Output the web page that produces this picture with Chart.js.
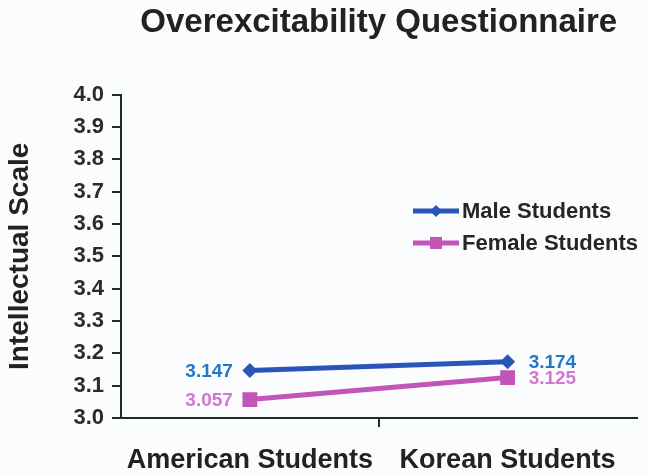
<!DOCTYPE html>
<html>
<head>
<meta charset="utf-8">
<script src="https://cdn.jsdelivr.net/npm/chart.js@4/dist/chart.umd.min.js"></script>
<style>
  html, body { margin: 0; padding: 0; background: #fbfcfe; }
  #wrap { width: 647px; height: 475px; }
</style>
</head>
<body>
<div id="wrap"><canvas id="c" width="647" height="475"></canvas></div>
<script>
const titleText = 'Overexcitability Questionnaire';
const yAxisTitle = 'Intellectual Scale';
const categories = ['American Students', 'Korean Students'];
const seriesNames = ['Male Students', 'Female Students'];
const maleValues = [3.147, 3.174];
const femaleValues = [3.057, 3.125];
const yMin = 3.0, yMax = 4.0, yStep = 0.1;

const FONT = '"Liberation Sans", Arial, sans-serif';
const lineColors = ['#2a55b8', '#c255b9'];
const labelColors = ['#1f78c8', '#d276d2'];

const valueLabels = {
  id: 'valueLabels',
  afterDatasetsDraw(chart) {
    const ctx = chart.ctx;
    ctx.save();
    ctx.font = 'bold 19px ' + FONT;
    ctx.textBaseline = 'middle';
    chart.data.datasets.forEach((ds, i) => {
      const meta = chart.getDatasetMeta(i);
      const pts = meta.data;
      ctx.fillStyle = labelColors[i];
      ctx.textAlign = 'right';
      ctx.fillText(ds.data[0].toFixed(3), pts[0].x - 17, pts[0].y + 1);
      ctx.textAlign = 'left';
      const last = pts.length - 1;
      ctx.fillText(ds.data[last].toFixed(3), pts[last].x + 21, pts[last].y + 1);
    });
    ctx.restore();
  }
};

const customLegend = {
  id: 'customLegend',
  afterDraw(chart) {
    const ctx = chart.ctx;
    const x0 = 413, x1 = 459;
    const ys = [211, 243];
    ctx.save();
    chart.data.datasets.forEach((ds, i) => {
      const y = ys[i];
      const cx = (x0 + x1) / 2;
      ctx.strokeStyle = ds.borderColor;
      ctx.lineWidth = 5;
      ctx.beginPath();
      ctx.moveTo(x0, y);
      ctx.lineTo(x1, y);
      ctx.stroke();
      ctx.fillStyle = ds.borderColor;
      ctx.beginPath();
      if (ds.pointStyle === 'rectRot') {
        const r = 6;
        ctx.moveTo(cx - r, y);
        ctx.lineTo(cx, y - r);
        ctx.lineTo(cx + r, y);
        ctx.lineTo(cx, y + r);
        ctx.closePath();
      } else {
        ctx.rect(cx - 6, y - 6, 12, 12);
      }
      ctx.fill();
      ctx.fillStyle = '#262626';
      ctx.font = 'bold 22px ' + FONT;
      ctx.textAlign = 'left';
      ctx.textBaseline = 'middle';
      ctx.fillText(ds.label, x1 + 3, y + 1);
    });
    ctx.restore();
  }
};

new Chart(document.getElementById('c'), {
  type: 'line',
  data: {
    labels: categories,
    datasets: [
      {
        label: seriesNames[0],
        data: maleValues,
        borderColor: lineColors[0],
        backgroundColor: lineColors[0],
        borderWidth: 5,
        pointStyle: 'rectRot',
        pointRadius: 7.5,
        pointBorderWidth: 0,
        tension: 0
      },
      {
        label: seriesNames[1],
        data: femaleValues,
        borderColor: lineColors[1],
        backgroundColor: lineColors[1],
        borderWidth: 5,
        pointStyle: 'rect',
        pointRadius: 10.5,
        pointBorderWidth: 0,
        tension: 0
      }
    ]
  },
  options: {
    responsive: false,
    animation: false,
    devicePixelRatio: 1,
    layout: { padding: { left: 0, right: 9, top: 0, bottom: 0 } },
    plugins: {
      legend: { display: false },
      tooltip: { enabled: false },
      title: {
        display: true,
        fullSize: false,
        text: titleText,
        color: '#222',
        font: { family: FONT, size: 33, weight: 'bold' },
        padding: { top: 3, bottom: 52 }
      }
    },
    scales: {
      x: {
        offset: true,
        afterFit(scale) { scale.height = 57; },
        grid: {
          display: true,
          drawOnChartArea: false,
          drawTicks: true,
          tickLength: 9,
          offset: true,
          lineWidth: 2,
          color: (c) => (c.index === 1 ? '#1d2b2b' : 'rgba(0,0,0,0)')
        },
        border: { display: true, color: '#1d2b2b', width: 2 },
        ticks: {
          color: '#222',
          font: { family: FONT, size: 27, weight: 'bold' },
          padding: 17,
          maxRotation: 0,
          autoSkip: false
        }
      },
      y: {
        min: yMin,
        max: yMax,
        afterFit(scale) { scale.width = 121; },
        grid: {
          display: true,
          drawOnChartArea: false,
          drawTicks: true,
          tickLength: 9,
          lineWidth: 2,
          color: '#1d2b2b'
        },
        border: { display: true, color: '#1d2b2b', width: 2 },
        ticks: {
          stepSize: yStep,
          color: '#2b2b2b',
          font: { family: FONT, size: 22, weight: 'bold' },
          padding: 8,
          callback: (v) => Number(v).toFixed(1)
        },
        title: {
          display: true,
          text: yAxisTitle,
          color: '#222',
          font: { family: FONT, size: 28, weight: 'bold' },
          padding: { top: 3, bottom: 0 }
        }
      }
    }
  },
  plugins: [valueLabels, customLegend]
});
</script>
</body>
</html>
